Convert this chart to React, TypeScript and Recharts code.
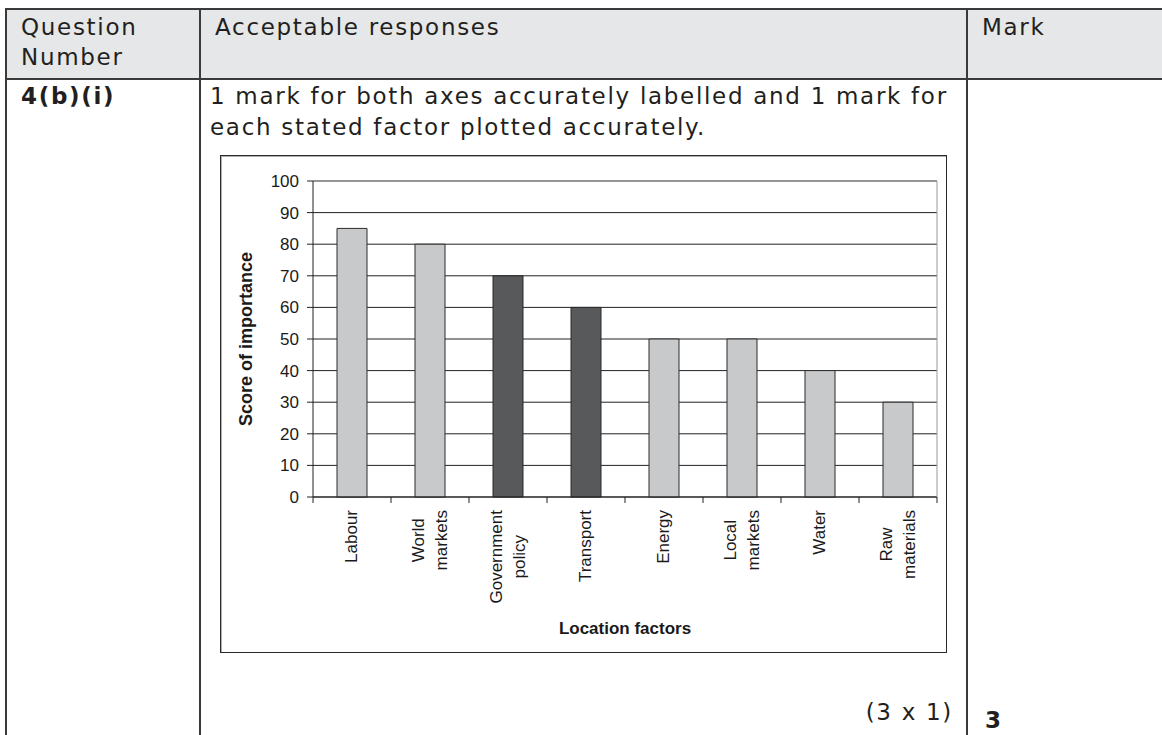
import React from 'react';
import { BarChart, Bar, XAxis, YAxis, CartesianGrid, ReferenceLine, Cell } from 'recharts';

const factors = ['Labour', 'World markets', 'Government policy', 'Transport', 'Energy', 'Local markets', 'Water', 'Raw materials'];
const scores = [85, 80, 70, 60, 50, 50, 40, 30];
const highlighted = ['Government policy', 'Transport'];
const scoreTicks = [0, 10, 20, 30, 40, 50, 60, 70, 80, 90, 100];

const headerLines = ['Question', 'Number'];
const responseLines = ['1 mark for both axes accurately labelled and 1 mark for', 'each stated factor plotted accurately.'];

const chartData = factors.map((name, i) => ({ name, score: scores[i] }));

const chartFont = '"Liberation Sans", Arial, sans-serif';
const tableFont = '"DejaVu Sans", Verdana, sans-serif';
const lineColor = '#3a3a3a';

let measureCtx: CanvasRenderingContext2D | null = null;
const measure = (text: string, font: string) => {
  if (!measureCtx) measureCtx = document.createElement('canvas').getContext('2d');
  if (!measureCtx) return text.length * 9;
  measureCtx.font = font;
  return measureCtx.measureText(text).width;
};

const FactorTick = (props: any) => {
  const { x, y, payload, index } = props;
  const half = payload && payload.offset ? payload.offset : 39;
  const lines = String(payload.value).split(' ');
  const maxLen = Math.max(...lines.map((l) => measure(l, `17px ${chartFont}`)));
  const cy = y + 7 + maxLen / 2;
  const spacing = 23;
  return (
    <g>
      <line x1={x - half} x2={x - half} y1={y - 6} y2={y} stroke="#222" />
      {index === factors.length - 1 && <line x1={x + half} x2={x + half} y1={y - 6} y2={y} stroke="#222" />}
      {lines.map((l, i) => {
        const lx = x + (i - (lines.length - 1) / 2) * spacing;
        return (
          <text
            key={i}
            x={lx}
            y={cy}
            transform={`rotate(-90, ${lx}, ${cy})`}
            textAnchor="middle"
            dominantBaseline="central"
            fontSize={17}
            fontFamily={chartFont}
            fill="#1a1a1a"
          >
            {l}
          </text>
        );
      })}
    </g>
  );
};

const abs = (style: React.CSSProperties): React.CSSProperties => ({ position: 'absolute', ...style });

const App: React.FC = () => {
  const textStyle: React.CSSProperties = {
    fontFamily: tableFont,
    fontSize: 23,
    lineHeight: '30px',
    letterSpacing: 1.7,
    color: '#231f20',
    whiteSpace: 'nowrap',
  };

  return (
    <div style={abs({ left: 0, top: 0, width: 1162, height: 735, background: '#fff', overflow: 'hidden' })}>
      {/* table */}
      <div style={abs({ left: 5, top: 8, width: 1157, height: 71, background: '#e6e7e8' })} />
      <div style={abs({ left: 5, top: 8, width: 1157, height: 2, background: lineColor })} />
      <div style={abs({ left: 5, top: 78, width: 1157, height: 2, background: lineColor })} />
      <div style={abs({ left: 5, top: 8, width: 2, height: 727, background: lineColor })} />
      <div style={abs({ left: 199, top: 8, width: 2, height: 727, background: lineColor })} />
      <div style={abs({ left: 966, top: 8, width: 2, height: 727, background: lineColor })} />

      <div style={abs({ ...textStyle, left: 21, top: 12 })}>
        {headerLines.map((l) => (
          <div key={l}>{l}</div>
        ))}
      </div>
      <div style={abs({ ...textStyle, left: 215, top: 12 })}>Acceptable responses</div>
      <div style={abs({ ...textStyle, left: 982, top: 12 })}>Mark</div>

      <div style={abs({ ...textStyle, left: 21, top: 81, fontWeight: 'bold' })}>4(b)(i)</div>
      <div style={abs({ ...textStyle, left: 210, top: 81 })}>
        {responseLines.map((l, i) => (
          <div key={l} style={{ marginTop: i === 0 ? 0 : 1 }}>{l}</div>
        ))}
      </div>
      <div style={abs({ ...textStyle, right: 1162 - 953, top: 697 })}>(3 x 1)</div>
      <div style={abs({ ...textStyle, left: 985, top: 705, fontWeight: 'bold' })}>3</div>

      {/* chart box */}
      <div
        style={abs({
          left: 220,
          top: 155,
          width: 725,
          height: 496,
          border: '1px solid #2a2a2a',
          boxShadow: 'inset 1px 1px 0 #b0b0b0',
          background: '#fff',
        })}
      >
        <div style={abs({ left: 0, top: 0 })}>
          <BarChart width={725} height={496} data={chartData} margin={{ top: 25, right: 0, left: 0, bottom: 0 }} barSize={30}>
            <CartesianGrid yAxisId="score" vertical={false} stroke="#222" />
            <XAxis
              dataKey="name"
              interval={0}
              height={155}
              tickSize={6}
              tickMargin={0}
              tickLine={{ stroke: 'none' }}
              axisLine={{ stroke: '#222' }}
              tick={<FactorTick />}
              label={{
                value: 'Location factors',
                position: 'insideBottom',
                offset: 18,
                fontSize: 17,
                fontWeight: 'bold',
                fontFamily: chartFont,
                fill: '#1a1a1a',
              }}
            />
            <YAxis
              yAxisId="score"
              width={92}
              domain={[0, 100]}
              ticks={scoreTicks}
              interval={0}
              tickSize={6}
              tickMargin={8}
              tickLine={{ stroke: '#222' }}
              axisLine={{ stroke: '#222' }}
              tick={{ fontSize: 17, fontFamily: chartFont, fill: '#1a1a1a' }}
              label={{
                value: 'Score of importance',
                angle: -90,
                position: 'center',
                dx: -21,
                fontSize: 18,
                fontWeight: 'bold',
                fontFamily: chartFont,
                fill: '#1a1a1a',
              }}
            />
            <YAxis
              yAxisId="frame"
              orientation="right"
              width={9}
              domain={[0, 100]}
              tick={false}
              tickLine={false}
              axisLine={{ stroke: '#9a9a9a' }}
            />
            <ReferenceLine yAxisId="score" y={100} stroke="#9a9a9a" />
            <Bar yAxisId="score" dataKey="score" stroke="#2a2a2a" strokeWidth={1} isAnimationActive={false}>
              {chartData.map((d) => (
                <Cell key={d.name} fill={highlighted.includes(d.name) ? '#58595b' : '#c8c9cb'} />
              ))}
            </Bar>
          </BarChart>
        </div>
      </div>
    </div>
  );
};

export default App;
